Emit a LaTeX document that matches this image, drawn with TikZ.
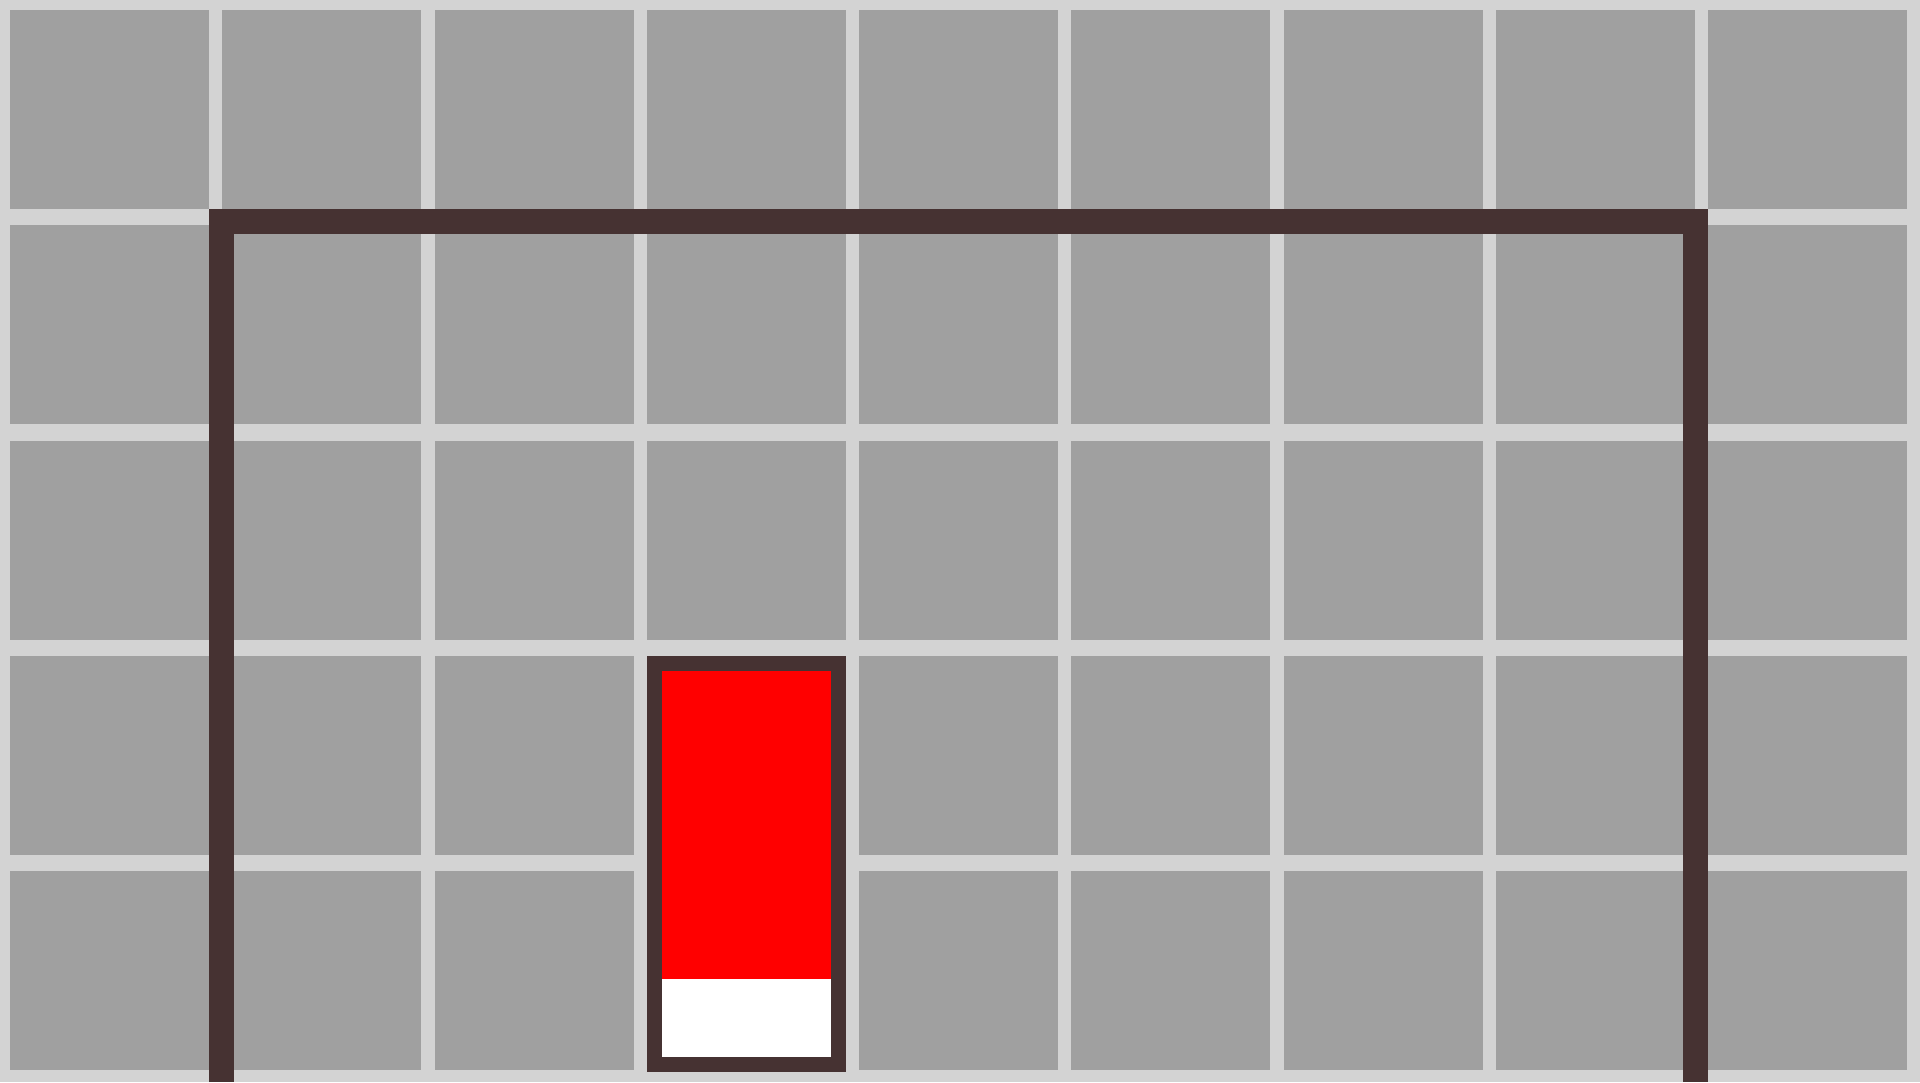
\documentclass[tikz,border=0pt]{standalone}
\usepackage{tikz}
\usepackage{xcolor}
\definecolor{floorgray}{RGB}{211, 211, 211}
\definecolor{cellgray}{RGB}{160, 160, 160}
\definecolor{wallbrown}{RGB}{70, 50, 50}
\definecolor{blockred}{RGB}{255, 0, 0}

\begin{document}
\begin{tikzpicture}[x=0.5pt, y=-0.5pt]
    \fill[floorgray] (0, 0) rectangle (1920, 1082);
    \useasboundingbox (0, 0) rectangle (1920, 1082);
    \foreach \i in {0,...,8}
      \foreach \j in {0,...,4}
        \fill[cellgray] ({10+212.25*\i}, {10+215.25*\j}) rectangle ++(199, 199);
    \draw[wallbrown, line width=12.5pt, line join=miter]
      (221.5, 1082) -- (221.5, 221.5) -- (1695.5, 221.5) -- (1695.5, 1082);
    \fill[blockred] (654.25, 663.25) rectangle (838.25, 979);
    \fill[white] (654.25, 979) rectangle (838.25, 1064);
    \draw[wallbrown, line width=7.5pt] (654.25, 663.25) rectangle (838.25, 1064);
  \end{tikzpicture}
\end{document}
